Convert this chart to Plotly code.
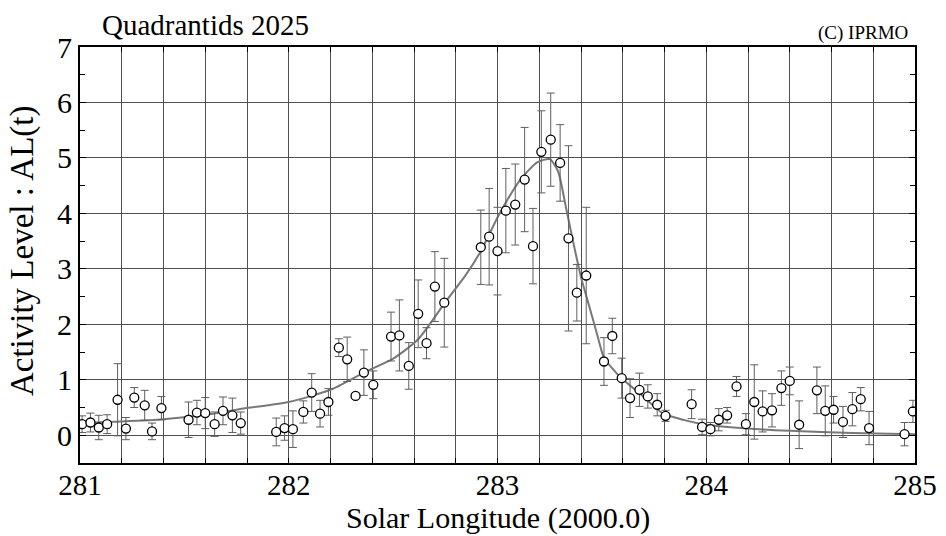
import plotly.graph_objects as go

# Observed activity level points (solar longitude, AL, error)
sol = [281.01, 281.05, 281.09, 281.13, 281.18, 281.22, 281.26, 281.31, 281.345, 281.39,
       281.52, 281.56, 281.60, 281.645, 281.685, 281.73, 281.77, 281.94, 281.98, 282.02,
       282.07, 282.11, 282.15, 282.19, 282.24, 282.28, 282.32, 282.36, 282.405, 282.49,
       282.53, 282.575, 282.62, 282.66, 282.70, 282.745, 282.92, 282.96, 283.0, 283.04,
       283.085, 283.13, 283.17, 283.21, 283.255, 283.30, 283.34, 283.38, 283.425, 283.51,
       283.55, 283.595, 283.635, 283.68, 283.72, 283.765, 283.805, 283.93, 283.98, 284.02,
       284.06, 284.10, 284.145, 284.19, 284.23, 284.27, 284.315, 284.36, 284.40, 284.445,
       284.53, 284.57, 284.61, 284.655, 284.70, 284.74, 284.78, 284.95, 284.99]
al = [0.20, 0.23, 0.14, 0.20, 0.64, 0.12, 0.68, 0.54, 0.07, 0.49,
      0.28, 0.41, 0.40, 0.20, 0.44, 0.36, 0.22, 0.06, 0.13, 0.11,
      0.42, 0.77, 0.39, 0.60, 1.58, 1.37, 0.71, 1.13, 0.91, 1.78,
      1.80, 1.25, 2.19, 1.66, 2.68, 2.39, 3.39, 3.58, 3.32, 4.05,
      4.16, 4.61, 3.41, 5.11, 5.33, 4.91, 3.55, 2.57, 2.88, 1.33,
      1.79, 1.03, 0.67, 0.82, 0.70, 0.55, 0.35, 0.56, 0.15, 0.11,
      0.28, 0.36, 0.88, 0.20, 0.60, 0.43, 0.45, 0.85, 0.98, 0.19,
      0.81, 0.44, 0.46, 0.24, 0.47, 0.65, 0.13, 0.02, 0.43]
err = [0.15, 0.17, 0.22, 0.17, 0.65, 0.20, 0.18, 0.27, 0.15, 0.21,
       0.32, 0.22, 0.28, 0.22, 0.25, 0.31, 0.20, 0.25, 0.22, 0.33,
       0.20, 0.34, 0.24, 0.24, 0.16, 0.40, 0.03, 0.41, 0.25, 0.44,
       0.64, 0.42, 0.61, 0.28, 0.63, 0.80, 0.67, 0.87, 0.79, 0.76,
       0.73, 0.94, 0.68, 0.74, 0.84, 0.69, 1.67, 0.51, 1.23, 0.43,
       0.32, 0.36, 0.35, 0.30, 0.21, 0.20, 0.10, 0.26, 0.14, 0.12,
       0.20, 0.14, 0.18, 0.19, 0.67, 0.37, 0.30, 0.31, 0.25, 0.43,
       0.42, 0.45, 0.24, 0.28, 0.30, 0.21, 0.30, 0.21, 0.20]

# Fitted activity curve
fit_sol = [281.0, 281.2, 281.4, 281.6, 281.8, 282.0, 282.2, 282.36, 282.5, 282.62,
           282.75, 282.85, 282.92, 283.01, 283.11, 283.19, 283.25, 283.29, 283.33, 283.36,
           283.4, 283.43, 283.475, 283.51, 283.59, 283.68, 283.79, 283.91, 284.0, 284.2,
           284.4, 284.7, 285.0]
fit_al = [0.22, 0.25, 0.29, 0.37, 0.49, 0.60, 0.82, 1.13, 1.38, 1.73,
          2.40, 2.90, 3.32, 4.00, 4.61, 4.92, 4.98, 4.76, 4.07, 3.53,
          2.85, 2.45, 1.85, 1.40, 1.04, 0.76, 0.40, 0.26, 0.19, 0.12,
          0.08, 0.04, 0.02]

x_ticks = [281 + 0.2 * i for i in range(21)]
x_text = [str(int(round(v))) if abs(v - round(v)) < 1e-6 else "" for v in x_ticks]
y_ticks = [0, 1, 2, 3, 4, 5, 6, 7]

FONT = "Liberation Serif"
GRID = "rgb(80,80,80)"

fig = go.Figure()
fig.add_trace(go.Scatter(
    x=fit_sol, y=fit_al, mode="lines",
    line=dict(color="rgb(120,120,120)", width=2, shape="spline", smoothing=0.6),
    hoverinfo="skip", showlegend=False))
fig.add_trace(go.Scatter(
    x=sol, y=al, mode="markers",
    marker=dict(size=9, color="white", line=dict(color="black", width=1.3)),
    error_y=dict(type="data", array=err, visible=True, color="rgb(95,95,95)",
                 thickness=1, width=4),
    showlegend=False))

fig.update_layout(
    width=946, height=536,
    margin=dict(l=80, r=31, t=47, b=73, autoexpand=False),
    paper_bgcolor="white", plot_bgcolor="white",
    font=dict(family=FONT, color="black"),
    xaxis=dict(range=[281, 285], tickvals=x_ticks, ticktext=x_text,
               ticks="inside", ticklen=5, tickcolor="black",
               showgrid=True, gridcolor=GRID, gridwidth=1,
               showline=True, linecolor="black", linewidth=2, mirror="ticks",
               zeroline=False, tickfont=dict(size=29, family=FONT), automargin=False,
               ticklabelstandoff=-5),
    yaxis=dict(range=[-0.5, 7], tickvals=y_ticks,
               ticks="inside", ticklen=6, tickcolor="black",
               minor=dict(dtick=0.5, ticks="inside", ticklen=5, tickcolor="black", showgrid=False),
               showgrid=True, gridcolor=GRID, gridwidth=1,
               showline=True, linecolor="black", linewidth=2, mirror="ticks",
               zeroline=False, tickfont=dict(size=30, family=FONT), automargin=False),
    annotations=[
        dict(text="Quadrantids 2025", xref="paper", yref="paper", x=0.024, y=1.053,
             xanchor="left", yanchor="middle", showarrow=False,
             font=dict(size=29, family=FONT, color="black")),
        dict(text="(C) IPRMO", xref="paper", yref="paper", x=0.994, y=1.034,
             xanchor="right", yanchor="middle", showarrow=False,
             font=dict(size=19, family=FONT, color="black")),
        dict(text="Solar Longitude (2000.0)", xref="paper", yref="paper", x=0.5, y=-0.132,
             xanchor="center", yanchor="middle", showarrow=False, borderpad=0,
             font=dict(size=30, family=FONT, color="black")),
        dict(text="Activity Level : AL(t)", xref="paper", yref="paper", x=-0.068, y=0.51,
             xanchor="center", yanchor="middle", showarrow=False, textangle=-90,
             font=dict(size=33, family=FONT, color="black")),
    ],
)

fig.write_html("out.html", config={"displayModeBar": False},
               post_script="document.body.style.margin='0';document.body.style.padding='0';")
